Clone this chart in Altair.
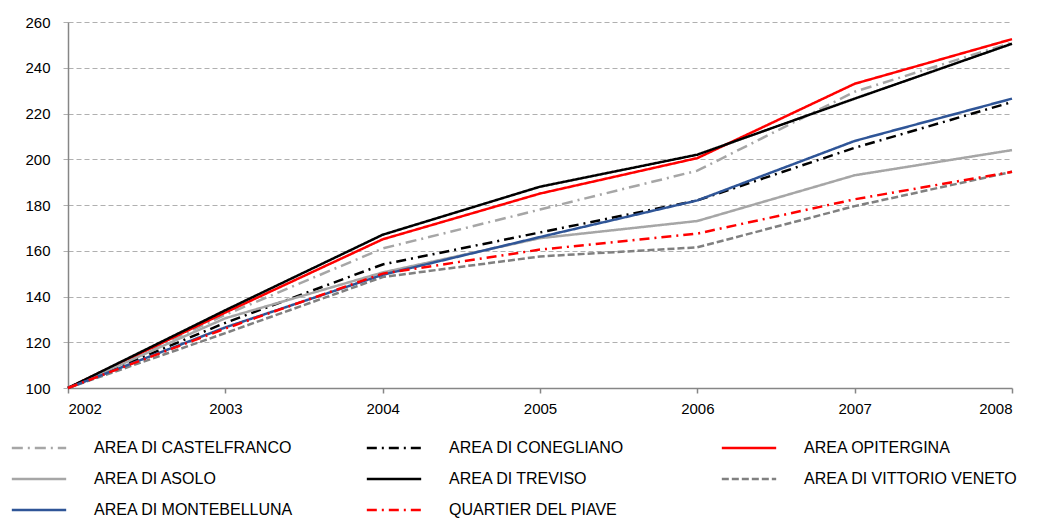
import altair as alt
import pandas as pd

years = [2002, 2003, 2004, 2005, 2006, 2007, 2008]
series_names = [
    "AREA DI CASTELFRANCO", "AREA DI CONEGLIANO", "AREA OPITERGINA",
    "AREA DI ASOLO", "AREA DI TREVISO", "AREA DI VITTORIO VENETO",
    "AREA DI MONTEBELLUNA", "QUARTIER DEL PIAVE",
]
castelfranco = [100, 132, 161, 178, 195, 229.5, 251]
conegliano = [100, 128.5, 154, 168, 182, 205, 225]
opitergina = [100, 133, 165, 185, 200.5, 233, 252.5]
asolo = [100, 130.5, 150.5, 165.5, 173, 193, 204]
treviso = [100, 134, 167, 188, 202, 226.5, 250.5]
vittorio = [100, 124, 148.5, 157.5, 161.5, 179.5, 194.5]
montebelluna = [100, 126.5, 149.5, 166, 182, 208, 226.5]
piave = [100, 126, 150, 160.5, 167.5, 182.5, 194.5]
all_values = [castelfranco, conegliano, opitergina, asolo, treviso,
              vittorio, montebelluna, piave]

colors = ["#a6a6a6", "#000000", "#ff0000", "#a6a6a6", "#000000",
          "#808080", "#2f5597", "#ff0000"]
dashes = [[11, 5, 2, 5], [10, 5, 2, 5], [1, 0], [1, 0], [1, 0],
          [7, 3], [1, 0], [10, 5, 2, 5]]

rows = []
for i, (name, vals) in enumerate(zip(series_names, all_values)):
    for y, v in zip(years, vals):
        rows.append({"serie": name, "anno": y, "valore": v, "ord": i})
df = pd.DataFrame(rows)

FONT = "Liberation Sans"

chart = alt.Chart(df).mark_line(strokeWidth=2.5).encode(
    x=alt.X("anno:Q", scale=alt.Scale(domain=[2002, 2008], nice=False, zero=False),
            axis=alt.Axis(values=years, format="d", title=None, grid=False,
                          domain=True, domainColor="#868686", domainWidth=1.5,
                          ticks=True, tickColor="#868686", tickSize=5, tickWidth=1.5,
                          labelPadding=8, labelFontSize=15, labelFont=FONT,
                          labelColor="#000000")),
    y=alt.Y("valore:Q", scale=alt.Scale(domain=[100, 260], nice=False, zero=False),
            axis=alt.Axis(values=list(range(100, 261, 20)), title=None, grid=True,
                          gridColor="#b0b0b0", gridDash=[5, 3], gridWidth=1.2,
                          domain=True, domainColor="#868686", domainWidth=1.5,
                          ticks=True, tickColor="#b0b0b0", tickSize=5, tickDash=[5, 3],
                          labelPadding=13, labelFontSize=15, labelFont=FONT,
                          labelColor="#000000")),
    color=alt.Color("serie:N", sort=series_names,
                    scale=alt.Scale(domain=series_names, range=colors),
                    legend=alt.Legend(title=None, orient="none", legendX=-52, legendY=403,
                                      columns=3, direction="horizontal", gridAlign="all",
                                      symbolType="M-1.25,0H1.25", symbolSize=1892,
                                      symbolStrokeWidth=2.5, labelOffset=32,
                                      columnPadding=53, rowPadding=0,
                                      labelFontSize=16, labelFont=FONT,
                                      labelColor="#000000", labelLimit=300)),
    strokeDash=alt.StrokeDash("serie:N", sort=series_names,
                              scale=alt.Scale(domain=series_names, range=dashes),
                              legend=None),
    order=alt.Order("ord:Q"),
    detail="serie:N",
).properties(
    width=944, height=366,
    autosize=alt.AutoSizeParams(type="none"),
    padding={"left": 60, "top": 14, "right": 20, "bottom": 134},
).configure_view(stroke=None)

chart.save("out.html", embed_options={"renderer": "svg", "actions": False})
